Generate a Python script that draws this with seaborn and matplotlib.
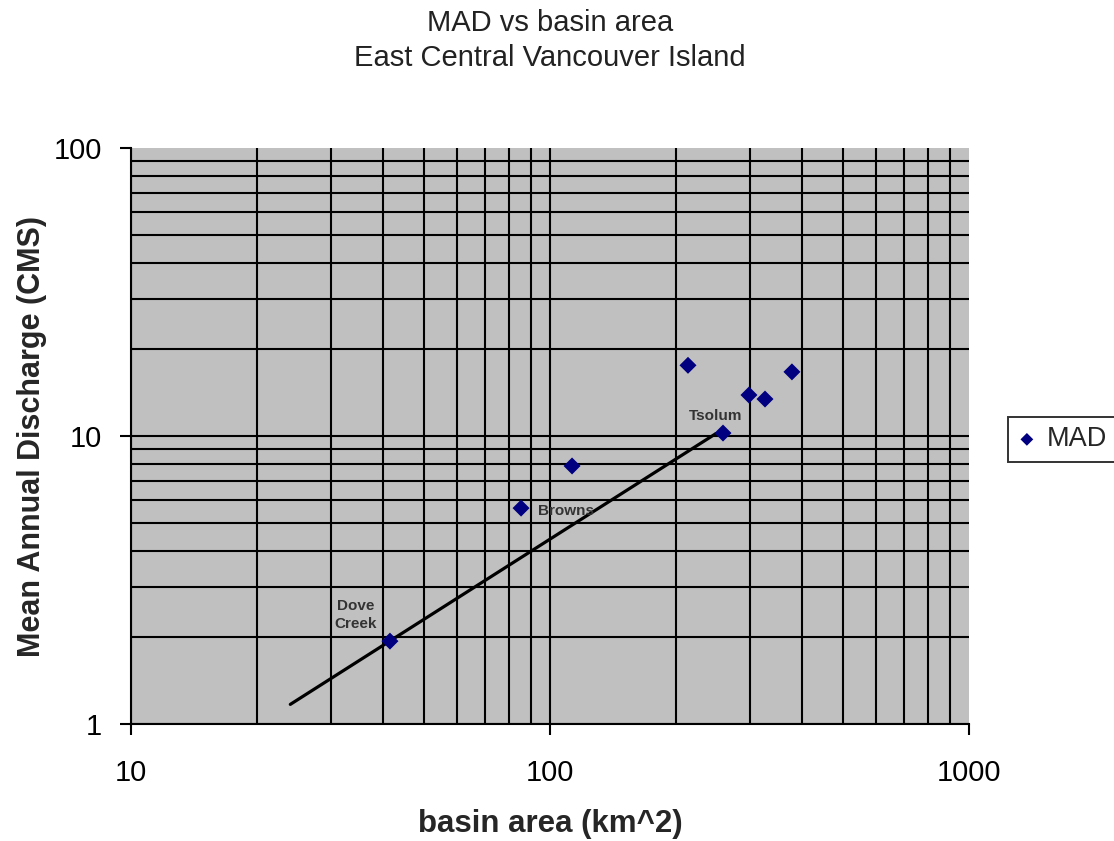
import numpy as np
import pandas as pd
import seaborn as sns
import matplotlib.pyplot as plt
from matplotlib.ticker import LogLocator, FixedLocator, NullFormatter

# MAD values
basin_area = [41.5, 85.3, 112.9, 213.5, 258.8, 298.5, 326.0, 378.0]
mad = [1.94, 5.62, 7.87, 17.6, 10.24, 13.88, 13.44, 16.7]
station = ["Dove\nCreek", "Browns", "", "", "Tsolum", "", "", ""]

# regression line end points
fit_area = [24.0, 249.0]
fit_mad = [1.17, 10.2]

x_ticks = [10, 100, 1000]
y_ticks = [1, 10, 100]

df = pd.DataFrame({"area": basin_area, "MAD": mad, "station": station})

sns.set_style("white")
plt.rcParams["font.family"] = ["Liberation Sans", "DejaVu Sans"]

fig = plt.figure(figsize=(11.14, 8.41), dpi=100)
ax = fig.add_axes([0.1176, 0.1391, 0.7522, 0.6849])
ax.set_facecolor("#c0c0c0")

ax.set_xscale("log")
ax.set_yscale("log")
ax.set_xlim(10, 1000)
ax.set_ylim(1, 100)

ax.xaxis.set_major_locator(FixedLocator(x_ticks))
ax.yaxis.set_major_locator(FixedLocator(y_ticks))
ax.xaxis.set_minor_locator(LogLocator(base=10, subs=np.arange(2, 10)))
ax.yaxis.set_minor_locator(LogLocator(base=10, subs=np.arange(2, 10)))
ax.xaxis.set_minor_formatter(NullFormatter())
ax.yaxis.set_minor_formatter(NullFormatter())
ax.set_xticklabels([str(t) for t in x_ticks])
ax.set_yticklabels([str(t) for t in y_ticks])

ax.grid(True, which="both", color="black", linewidth=1.5)
ax.set_axisbelow(True)
# no grid line on the top / right border
ax.xaxis.get_major_ticks()[-1].gridline.set_visible(False)
ax.yaxis.get_major_ticks()[-1].gridline.set_visible(False)
ax.spines["top"].set_visible(False)
ax.spines["right"].set_visible(False)
for s in ["left", "bottom"]:
    ax.spines[s].set_color("black")
    ax.spines[s].set_linewidth(1.5)

ax.tick_params(axis="both", which="major", direction="out", length=8, width=1.5,
               labelsize=21, colors="black", bottom=True, left=True)
ax.tick_params(axis="x", which="major", pad=17)
ax.tick_params(axis="y", which="major", pad=13)
ax.tick_params(axis="both", which="minor", length=0)

sns.lineplot(x=fit_area, y=fit_mad, color="black", linewidth=2.3, ax=ax, legend=False)
sns.scatterplot(data=df, x="area", y="MAD", marker="D", color="#000080", s=75,
                edgecolor="none", label="MAD", ax=ax, zorder=5)

for _, r in df[df["station"] != ""].iterrows():
    if r["station"] == "Browns":
        off, ha = (12, -2), "left"
    elif r["station"] == "Tsolum":
        off, ha = (-5, 12), "center"
    else:
        off, ha = (-25, 19), "center"
    ax.annotate(r["station"], (r["area"], r["MAD"]), xytext=off, textcoords="offset points",
                ha=ha, va="center", fontsize=11, fontweight="bold", color="#333333",
                linespacing=1.35)

ax.set_xlabel("basin area (km^2)", fontsize=22.5, fontweight="bold", labelpad=16)
ax.set_ylabel("Mean Annual Discharge (CMS)", fontsize=22, fontweight="bold", labelpad=5)
ax.set_title("MAD vs basin area\nEast Central Vancouver Island", fontsize=21, pad=59,
             color="#222222", linespacing=1.3)

leg = ax.legend(loc="center left", bbox_to_anchor=(1.0465, 0.494), frameon=True,
                fancybox=False, fontsize=19.5, handletextpad=0.4, borderpad=0.35,
                handlelength=0.7, markerscale=0.75, borderaxespad=0)
leg.get_frame().set_edgecolor("black")
leg.get_frame().set_linewidth(1.4)

fig.savefig("out.png", dpi=100)
